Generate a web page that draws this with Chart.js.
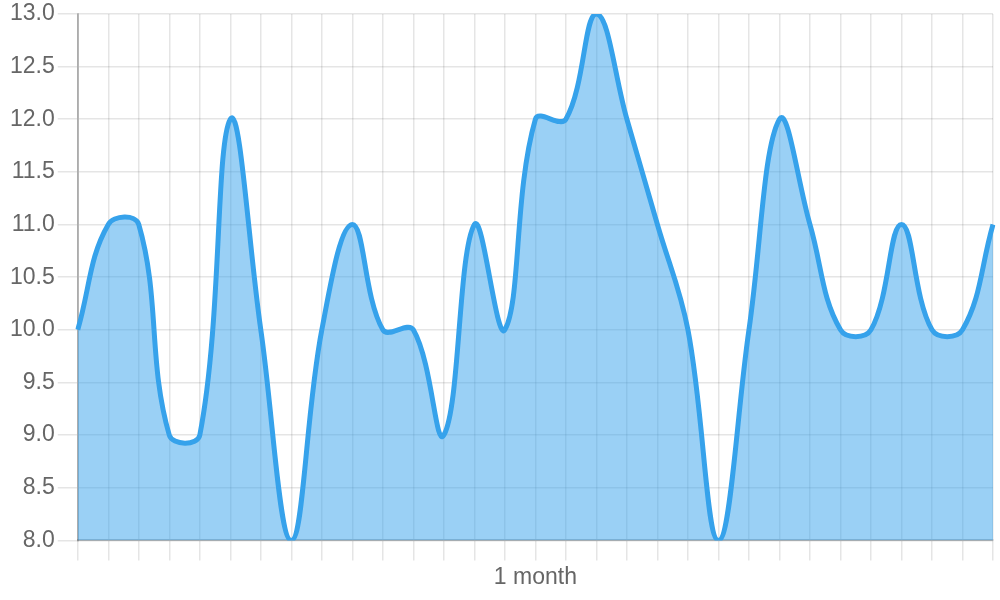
<!DOCTYPE html>
<html>
<head>
<meta charset="utf-8">
<script src="https://cdn.jsdelivr.net/npm/chart.js@4"></script>
<style>
  html, body { margin: 0; padding: 0; background: #fff; }
  #wrap { width: 1000px; height: 600px; }
</style>
</head>
<body>
<div id="wrap"><canvas id="chart"></canvas></div>
<script>
// x labels: only the middle one is shown
const labels = [
  "", "", "", "", "", "", "", "", "", "", "", "", "", "", "",
  "1 month",
  "", "", "", "", "", "", "", "", "", "", "", "", "", "", ""
];

const values = [
  10, 11, 11, 9, 9, 12, 10, 8, 10, 11, 10,
  10, 9, 11, 10, 12, 12, 13, 12, 11, 10, 8,
  10, 12, 11, 10, 10, 11, 10, 10, 11
];

const yTicks = { min: 8, max: 13, step: 0.5 };

Chart.defaults.font.family = "'Liberation Sans', Arial, sans-serif";
Chart.defaults.font.size = 23;
Chart.defaults.color = "#666";

new Chart(document.getElementById("chart"), {
  type: "line",
  data: {
    labels: labels,
    datasets: [
      {
        data: values,
        borderColor: "#36A2EB",
        backgroundColor: "rgba(54, 162, 235, 0.5)",
        borderWidth: 5,
        fill: true,
        tension: 0.4,
        pointRadius: 0,
      },
    ],
  },
  options: {
    responsive: true,
    maintainAspectRatio: false,
    animation: false,
    layout: { padding: { right: 7, top: 0, bottom: 6, left: 7 } },
    plugins: {
      legend: { display: false },
      tooltip: { enabled: false },
    },
    scales: {
      x: {
        grid: { color: "rgba(0,0,0,0.1)", tickLength: 20, lineWidth: 1.5 },
        border: { color: "rgba(0,0,0,0.25)", width: 2 },
        ticks: { autoSkip: false, maxRotation: 0 },
      },
      y: {
        min: yTicks.min,
        max: yTicks.max,
        grid: { color: "rgba(0,0,0,0.1)", tickLength: 20, lineWidth: 1.5 },
        border: { color: "rgba(0,0,0,0.25)", width: 2 },
        ticks: {
          stepSize: yTicks.step,
          font: { lineHeight: 0.95 },
          callback: (v) => v.toFixed(1),
        },
      },
    },
  },
});
</script>
</body>
</html>
